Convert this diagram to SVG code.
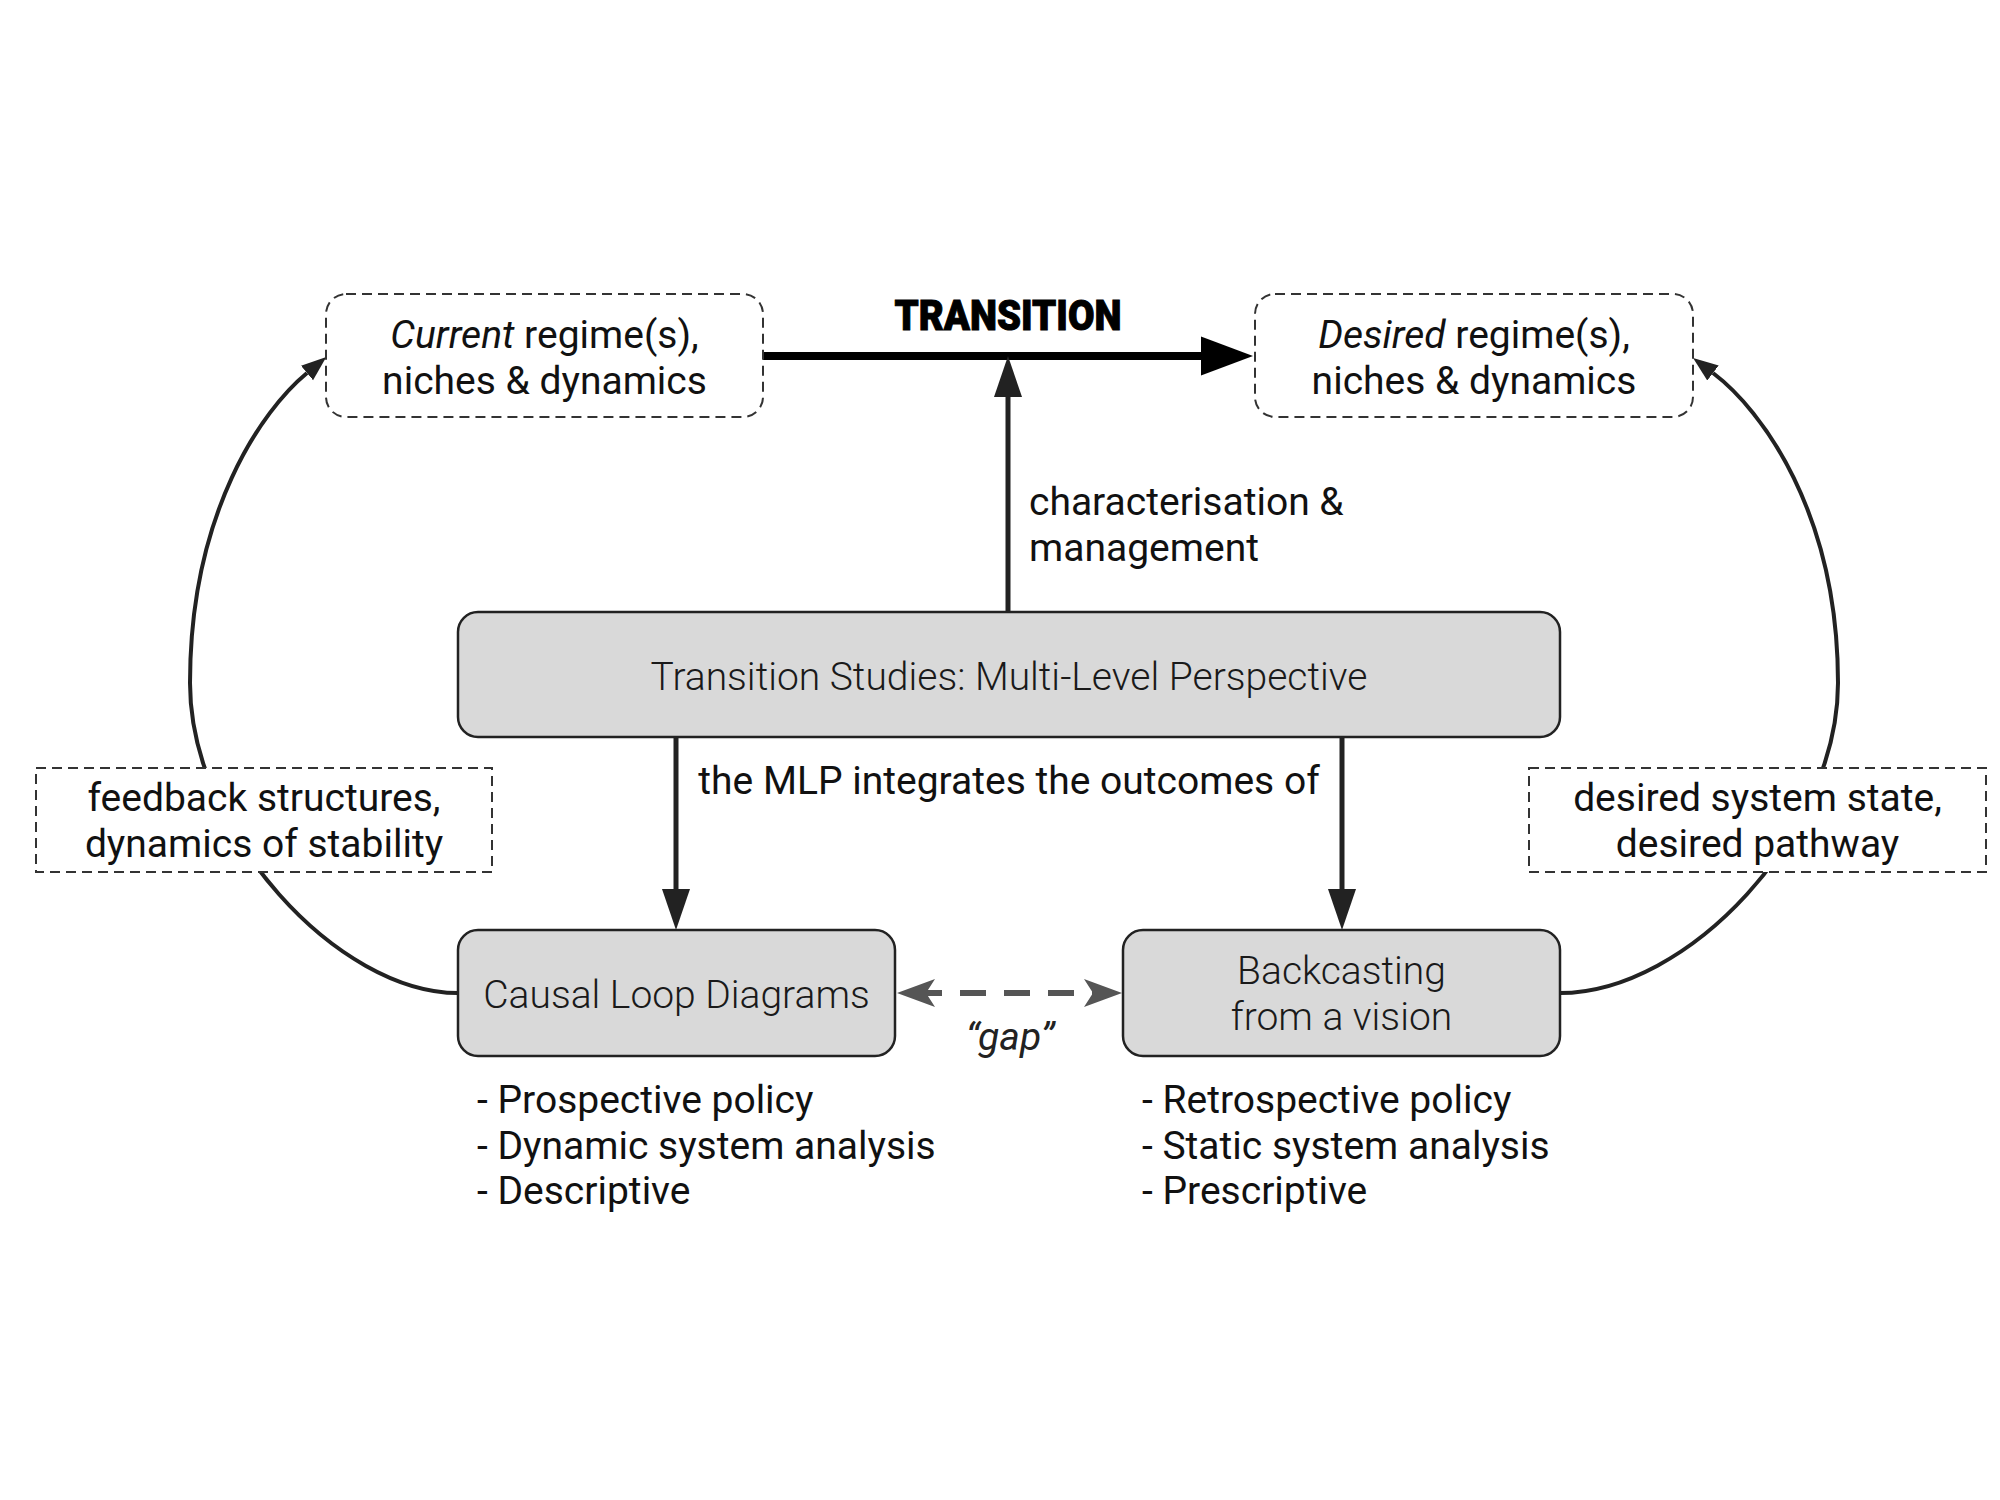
<svg xmlns="http://www.w3.org/2000/svg" width="2000" height="1500" viewBox="0 0 2000 1500">
<style>
text{font-family:Roboto,"Liberation Sans",sans-serif;fill:#111;font-size:39px}
.c{text-anchor:middle}
.lt{font-weight:300;fill:#1a1a1a}
.it{font-style:italic}
.dbox{fill:#fff;stroke:#333;stroke-width:2;stroke-dasharray:10 6}
.gbox{fill:#d9d9d9;stroke:#222;stroke-width:2.5}
.conn{fill:none;stroke:#222;stroke-width:5}
.curve{fill:none;stroke:#222;stroke-width:4}
.gaphead{fill:#555}
</style>
<defs>
<marker id="ahBig" markerUnits="userSpaceOnUse" viewBox="0 -20 52 40" markerWidth="52" markerHeight="40" refX="0" refY="0" orient="auto">
<path d="M0,-19.5 L52,0 L0,19.5 z" fill="#000"/>
</marker>
<marker id="ah" markerUnits="userSpaceOnUse" viewBox="0 -14 41 28" markerWidth="41" markerHeight="28" refX="0" refY="0" orient="auto">
<path d="M0,-14 L41,0 L0,14 z" fill="#222"/>
</marker>
<marker id="ahS" markerUnits="userSpaceOnUse" viewBox="0 -10 25 20" markerWidth="25" markerHeight="20" refX="0" refY="0" orient="auto">
<path d="M0,-9.5 L25,0 L0,9.5 z" fill="#222"/>
</marker>
</defs>

<g id="connectors">
<path class="curve" d="M458,993 C338,993 190,833 190,683 C190,513 262,410 307,373" marker-end="url(#ahS)"/>
<path class="curve" d="M1560,993 C1688,993 1838,833 1838,683 C1838,513 1762,410 1713,373" marker-end="url(#ahS)"/>
<path d="M763,356 L1201,356" fill="none" stroke="#000" stroke-width="8" marker-end="url(#ahBig)"/>
<path class="conn" d="M1008,612 L1008,397" marker-end="url(#ah)"/>
<path class="conn" d="M676,737 L676,889" marker-end="url(#ah)"/>
<path class="conn" d="M1342,737 L1342,889" marker-end="url(#ah)"/>
<path d="M925,993 L1095,993" fill="none" stroke="#555" stroke-width="6" stroke-dasharray="26 18" stroke-dashoffset="9"/>
<polygon class="gaphead" points="897,993 935,979 926,993 935,1007"/>
<polygon class="gaphead" points="1122,993 1084,979 1093,993 1084,1007"/>
<text class="c" x="1008" y="330" textLength="227" lengthAdjust="spacingAndGlyphs" style="font-weight:900;font-size:42px;fill:#000;stroke:#000;stroke-width:1">TRANSITION</text>
<text x="1029" y="515">characterisation &amp;</text>
<text x="1029" y="561">management</text>
<text class="c" x="1009" y="794">the MLP integrates the outcomes of</text>
<text class="c it" x="1010" y="1050" style="fill:#222">“gap”</text>
</g>

<g id="current">
<rect class="dbox" x="326" y="294" width="437" height="123" rx="20"/>
<text class="c" x="544.5" y="348"><tspan class="it">Current</tspan> regime(s),</text>
<text class="c" x="544.5" y="394">niches &amp; dynamics</text>
</g>

<g id="desired">
<rect class="dbox" x="1255" y="294" width="438" height="123" rx="20"/>
<text class="c" x="1474" y="348"><tspan class="it">Desired</tspan> regime(s),</text>
<text class="c" x="1474" y="394">niches &amp; dynamics</text>
</g>

<g id="mlp">
<rect class="gbox" x="458" y="612" width="1102" height="125" rx="20"/>
<text class="c lt" x="1009" y="690">Transition Studies: Multi-Level Perspective</text>
</g>

<g id="feedback">
<rect class="dbox" x="36" y="768" width="456" height="104"/>
<text class="c" x="264" y="811">feedback structures,</text>
<text class="c" x="264" y="857">dynamics of stability</text>
</g>

<g id="desiredstate">
<rect class="dbox" x="1529" y="768" width="457" height="104"/>
<text class="c" x="1757.5" y="811">desired system state,</text>
<text class="c" x="1757.5" y="857">desired pathway</text>
</g>

<g id="cld">
<rect class="gbox" x="458" y="930" width="437" height="126" rx="20"/>
<text class="c lt" x="676.5" y="1008">Causal Loop Diagrams</text>
</g>

<g id="backcasting">
<rect class="gbox" x="1123" y="930" width="437" height="126" rx="20"/>
<text class="c lt" x="1341.5" y="984">Backcasting</text>
<text class="c lt" x="1341.5" y="1030">from a vision</text>
</g>

<g id="cld-list">
<text x="477" y="1113">- Prospective policy</text>
<text x="477" y="1159">- Dynamic system analysis</text>
<text x="477" y="1204">- Descriptive</text>
</g>

<g id="bc-list">
<text x="1142" y="1113">- Retrospective policy</text>
<text x="1142" y="1159">- Static system analysis</text>
<text x="1142" y="1204">- Prescriptive</text>
</g>
</svg>
